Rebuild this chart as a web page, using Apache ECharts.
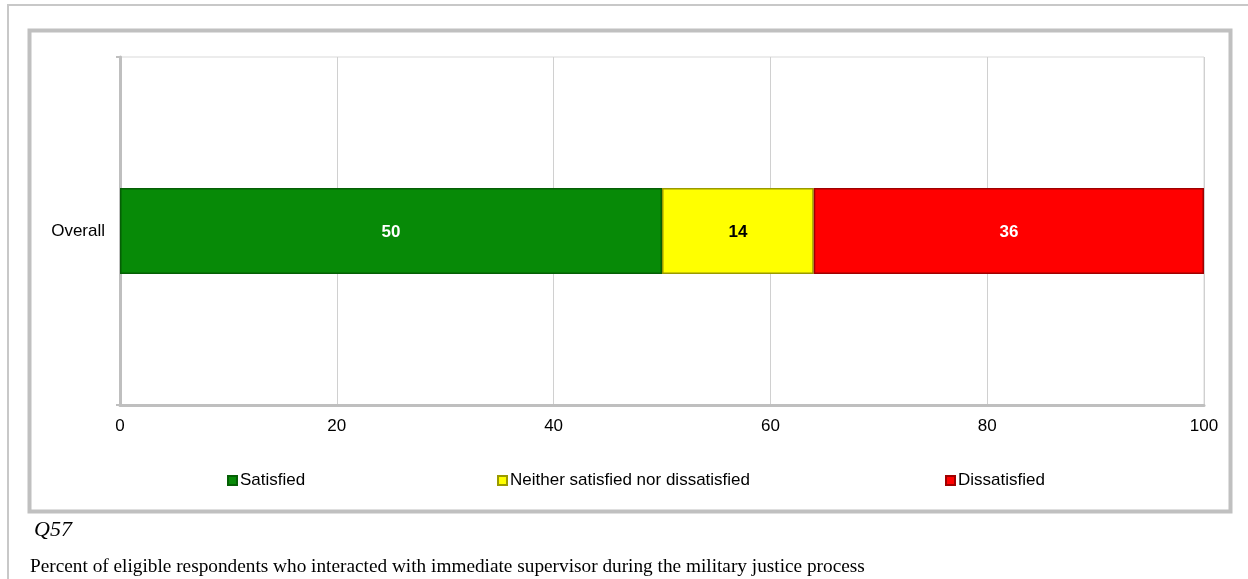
<!DOCTYPE html>
<html>
<head>
<meta charset="utf-8">
<script src="https://cdn.jsdelivr.net/npm/echarts@6/dist/echarts.min.js"></script>
<style>
html,body{margin:0;padding:0;background:#fff;}
#c{width:1248px;height:579px;}
</style>
</head>
<body>
<div id="c"></div>
<script>
const categories = ['Overall'];
const seriesNames = ['Satisfied', 'Neither satisfied nor dissatisfied', 'Dissatisfied'];
const satisfied = [50];
const neither = [14];
const dissatisfied = [36];
const xTicks = [0, 20, 40, 60, 80, 100];
const questionLabel = 'Q57';
const footnote = 'Percent of eligible respondents who interacted with immediate supervisor during the military justice process';

const colors = ['#078a07', '#ffff00', '#ff0000'];
const borders = ['#055f05', '#9a9a00', '#a00000'];
const labelColors = ['#ffffff', '#000000', '#ffffff'];
const values = [satisfied, neither, dissatisfied];

const chart = echarts.init(document.getElementById('c'), null, {renderer: 'canvas'});
const font = 'Arial, "Liberation Sans", sans-serif';

const series = seriesNames.map((n, i) => ({
  name: n,
  type: 'bar',
  stack: 'total',
  barWidth: 86,
  data: values[i],
  itemStyle: {color: colors[i], borderColor: borders[i], borderWidth: 1.5},
  label: {show: true, position: 'inside', color: labelColors[i], fontFamily: font, fontWeight: 'bold', fontSize: 17, offset: [0, 1]},
  emphasis: {disabled: true}
}));

const legendPos = [222, 492, 940];
const legends = seriesNames.map((n, i) => ({
  data: [n], left: legendPos[i], top: 467, icon: 'rect', itemWidth: 9, itemHeight: 9, itemGap: 4,
  textStyle: {fontFamily: font, fontSize: 17, color: '#000', padding: [0,0,0,-2]},
  selectedMode: false
}));

chart.setOption({
  animation: false,
  color: colors,
  grid: {left: 120, right: 44, top: 57, bottom: 174, show: true, borderColor: '#d9d9d9', borderWidth: 1},
  legend: legends,
  xAxis: {
    type: 'value', min: xTicks[0], max: xTicks[xTicks.length-1], interval: xTicks[1]-xTicks[0],
    axisLine: {show: true, lineStyle: {color: '#bfbfbf', width: 3}},
    axisTick: {show: false},
    splitLine: {show: true, lineStyle: {color: '#d0d0d0', width: 1}},
    axisLabel: {color: '#000', fontFamily: font, fontSize: 17, margin: 13}
  },
  yAxis: {
    type: 'category', data: categories,
    axisLine: {show: true, lineStyle: {color: '#bfbfbf', width: 3}},
    axisTick: {show: true, length: 4, lineStyle: {color: '#bfbfbf', width: 2}},
    axisLabel: {color: '#000', fontFamily: font, fontSize: 17, margin: 15, padding: [2,0,0,0]}
  },
  series: series,
  graphic: [
    {type: 'rect', shape: {x: 8, y: 5, width: 1260, height: 600}, style: {fill: 'none', stroke: '#c8c8c8', lineWidth: 2}, silent: true},
    {type: 'rect', shape: {x: 29.5, y: 30.5, width: 1201, height: 481}, style: {fill: 'none', stroke: '#c0c0c0', lineWidth: 4}, silent: true},
    {type: 'text', left: 34, top: 519, style: {text: questionLabel, font: 'italic 22px "Liberation Serif", "Times New Roman", serif', fill: '#000'}},
    {type: 'text', left: 30, top: 557, style: {text: footnote, font: '19.3px "Liberation Serif", "Times New Roman", serif', fill: '#000'}}
  ]
});
</script>
</body>
</html>
